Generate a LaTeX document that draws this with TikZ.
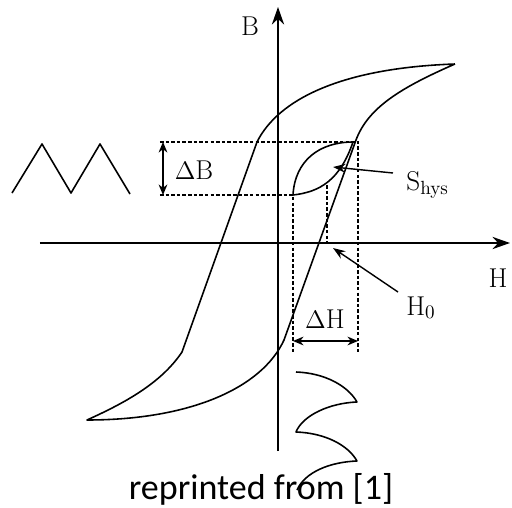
\documentclass[tikz,border=0pt]{standalone}
\usepackage{fontspec}
\newfontfamily\notefont{Carlito}
\usetikzlibrary{arrows.meta}
\tikzset{
    curve/.style={draw, line width=0.9pt, line join=round},
    axis/.style={draw, line width=0.9pt, -{Stealth[length=10pt, width=7pt]}},
    guide/.style={draw, line width=0.8pt, dash pattern=on 2pt off 1.2pt},
    dimarrow/.style={draw, line width=0.9pt, {Stealth[length=6pt, width=5pt]}-{Stealth[length=6pt, width=5pt]}},
    pointer/.style={draw, line width=0.8pt, -{Stealth[length=7pt, width=5pt]}},
    tag/.style={font=\fontsize{15.5}{18}\selectfont, inner sep=0pt}
}

\begin{document}
\begin{tikzpicture}[x=0.02cm, y=-0.02cm]
    \useasboundingbox (0,0) rectangle (512,508);

    % Axes
    \coordinate (Bbot) at (278,451);
    \coordinate (Btop) at (278,7);
    \coordinate (Hleft) at (40,243);
    \coordinate (Hright) at (510,243);
    \draw[axis] (Bbot) -- (Btop);
    \draw[axis] (Hleft) -- (Hright);

    % Nodes
    \node[tag, anchor=base] (B) at (250,35) {B};
    \node[tag, anchor=base] (H) at (498,287) {H};
    \node[tag, anchor=base] (dB) at (194,179) {$\Delta$B};
    \node[tag, anchor=base] (dH) at (325,328) {$\Delta$H};
    \node[tag, anchor=base west] (shys) at (406,190) {S\textsubscript{hys}};
    \node[tag, anchor=base west] (hzero) at (406,315) {H\textsubscript{0}};
    \node[font=\notefont\fontsize{20.5}{24}\selectfont, anchor=base, inner sep=0pt] (note) at (261,499) {reprinted from [1]};

    % Major loop
    \coordinate (tipR) at (455,64);
    \coordinate (kneeU) at (257,142);
    \coordinate (kneeL) at (182,352);
    \coordinate (tipL) at (87,420);
    \coordinate (kneeA) at (284,340);
    \coordinate (kneeB) at (356,140);
    \draw[curve] (tipR) .. controls (340,68) and (278,100) .. (kneeU) -- (kneeL)
        .. controls (160,385) and (120,405) .. (tipL)
        .. controls (190,420) and (262,388) .. (kneeA) -- (kneeB)
        .. controls (368,108) and (400,88) .. (tipR);

    % Minor loop
    \coordinate (mL) at (293,195);
    \coordinate (mR) at (353,142);
    \draw[curve] (mL) .. controls (295,160) and (320,142) .. (mR);
    \draw[curve] (mL) .. controls (320,192) and (340,180) .. (mR);

    % Guides
    \coordinate (gTL) at (160,142);
    \coordinate (gTR) at (358,142);
    \coordinate (gBL) at (160,195);
    \coordinate (gBR) at (358,352);
    \coordinate (gLB) at (293,352);
    \coordinate (gMT) at (327,185);
    \coordinate (gMB) at (327,243);
    \draw[guide] (gTL) -- (gTR) -- (gBR);
    \draw[guide] (gBL) -- (mL) -- (gLB);
    \draw[guide] (gMT) -- (gMB);

    % Dimension arrows
    \coordinate (dBt) at (163,142);
    \coordinate (dBb) at (163,195);
    \coordinate (dHl) at (293,341);
    \coordinate (dHr) at (358,341);
    \draw[dimarrow] (dBt) -- (dBb);
    \draw[dimarrow] (dHl) -- (dHr);

    % Pointers
    \coordinate (sFrom) at (393,173);
    \coordinate (sTo) at (333,167);
    \coordinate (hFrom) at (398,292);
    \coordinate (hTo) at (333,248);
    \draw[pointer] (sFrom) -- (sTo);
    \draw[pointer] (hFrom) -- (hTo);

    % Triangle wave
    \coordinate (t0) at (12,193);
    \coordinate (t1) at (42,144);
    \coordinate (t2) at (71,193);
    \coordinate (t3) at (100,144);
    \coordinate (t4) at (130,194);
    \draw[curve] (t0) -- (t1) -- (t2) -- (t3) -- (t4);

    % Field wave
    \coordinate (w1) at (296,372);
    \coordinate (w2) at (357,402);
    \coordinate (w3) at (296,432);
    \coordinate (w4) at (357,461);
    \coordinate (w5) at (297,490);
    \draw[curve] (w1) .. controls (325,373) and (348,386) .. (w2)
        .. controls (330,403) and (303,415) .. (w3)
        .. controls (325,433) and (348,445) .. (w4)
        .. controls (330,462) and (305,472) .. (w5);
\end{tikzpicture}
\end{document}
